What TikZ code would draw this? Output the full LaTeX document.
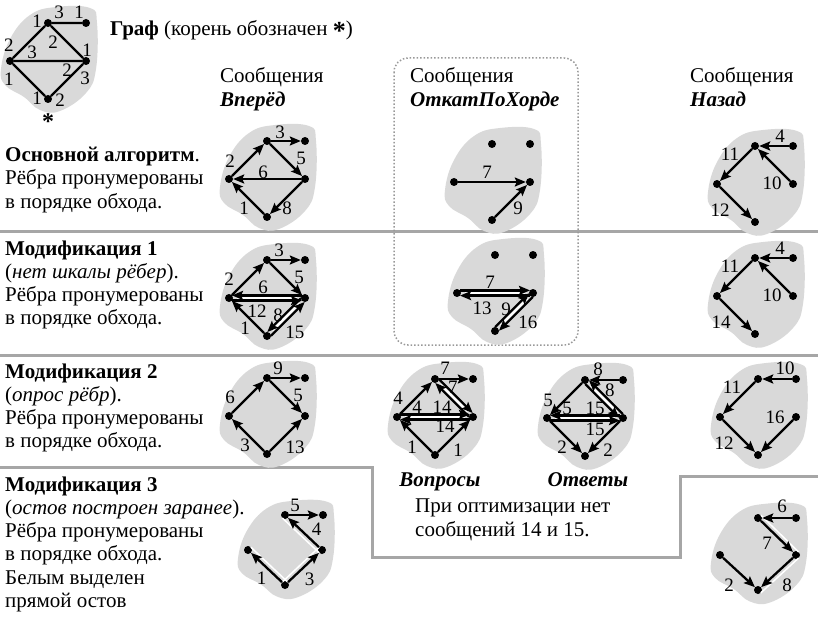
\documentclass[tikz,border=0pt]{standalone}
\usepackage{fontspec}
\setmainfont{Liberation Serif}
\usetikzlibrary{arrows.meta,calc,positioning}
\tikzset{
	dot/.style={circle, fill=black, inner sep=0pt, minimum size=8pt},
	edge/.style={line width=2.3pt},
	arr/.style={edge, -{Stealth[length=11pt,width=9pt,inset=2pt]}},
	gap/.style={white, line width=6pt, shorten <=4pt, shorten >=4pt},
	lbl/.style={inner sep=0pt, font=\fontsize{19}{19}\selectfont},
	blob/.style={fill=black!15, draw=none},
	sep/.style={draw=black!35, line width=3pt},
	ln/.style={anchor=base west, inner sep=0pt, font=\fontsize{21}{21}\selectfont},
	tree/.style={white, line width=1.5pt},
}
% five vertices of the graph around a centre
\newcommand{\verts}[3]{%
	\node[dot] (#1T) at (#2,#3-38) {};
	\node[dot] (#1S) at (#2+38,#3-38) {};
	\node[dot] (#1L) at (#2-38,#3) {};
	\node[dot] (#1R) at (#2+38,#3) {};
	\node[dot] (#1B) at (#2,#3+38) {};}
% grey patch under a graph
\newcommand{\blob}[3][1]{%
	\fill[blob, shift={(#2,#3)}, yscale=#1] plot[smooth cycle, tension=.7] coordinates
	{(-47,8) (-38,-22) (-18,-46) (8,-54) (42,-53) (49,-38) (48,8) (38,32) (12,50) (-8,49) (-24,36) (-43,24)};}
% one of two parallel arrows
\newcommand{\lane}[5]{%
	\draw[arr, shorten <=3pt, shorten >=3pt] ($(#2)!#1!90:(#3)$) -- node[lbl,shift={#4}] {#5} ($(#3)!#1!-90:(#2)$);}

\begin{document}
\begin{tikzpicture}[x=1pt,y=-1pt]
\useasboundingbox (0,0) rectangle (818,620);

% separators
\draw[sep] (0,231) -- (818,231);
\draw[sep] (0,355) -- (818,355);
\draw[sep] (0,467) -- (372,467) -- (372,557) -- (680,557) -- (680,476) -- (818,476);
\draw[black!40, dotted, line width=1.5pt, rounded corners=14pt] (394,58) rectangle (578,345);

% grey patches
\blob{48}{61}
\foreach \x/\y in {267/179, 492/182, 755/184, 267/298, 495/293, 755/296,
	267/416, 435/417, 585/418, 758/417}
	{\blob{\x}{\y}}
\blob[.93]{285}{551}
\blob[.95]{758}{555}

% the graph
\verts{g}{48}{61}
\draw[edge] (gT) -- (gS) (gT) -- (gL) (gT) -- (gR) (gL) -- (gR) (gL) -- (gB) (gR) -- (gB);
\foreach \t/\x/\y [count=\i] in {1/37/21, 3/59/12, 1/79/12, 2/9/45, 3/32/52, 2/53/42,
	1/87/50, 2/67/70, 3/85/78, 1/9/79, 1/37/98, 2/60/100}
	{\node[lbl] (p\i) at (\x,\y) {\t};}
\node[lbl, font=\fontsize{24}{24}\selectfont\bfseries] (root) at (48,122) {*};
\node[ln] (title) at (110,36)
	{\textbf{Граф} (корень обозначен \raisebox{-4pt}{\fontsize{26}{26}\selectfont\textbf{*}})};

% headers
\node[ln] (hf1) at (220,83) {Сообщения};
\node[ln] (hf2) at (220,107) {\textbf{\textit{Вперёд}}};
\node[ln] (hh1) at (410,83) {Сообщения};
\node[ln] (hh2) at (410,107) {\textbf{\textit{ОткатПоХорде}}};
\node[ln] (hb1) at (690,83) {Сообщения};
\node[ln] (hb2) at (690,107) {\textbf{\textit{Назад}}};

% left column
\foreach \s [count=\i from 0] in {{\textbf{Основной алгоритм}.}, Рёбра пронумерованы, в порядке обхода.}
	{\node[ln] (m0-\i) at (5,162+23*\i) {\s};}
\foreach \s [count=\i from 0] in {{\textbf{Модификация 1}}, {(\textit{нет шкалы рёбер}).},
	Рёбра пронумерованы, в порядке обхода.}
	{\node[ln] (m1-\i) at (5,255+23*\i) {\s};}
\foreach \s [count=\i from 0] in {{\textbf{Модификация 2}}, {(\textit{опрос рёбр}).},
	Рёбра пронумерованы, в порядке обхода.}
	{\node[ln] (m2-\i) at (5,378+23*\i) {\s};}
\foreach \s [count=\i from 0] in {{\textbf{Модификация 3}}, {(\textit{остов построен заранее}).},
	Рёбра пронумерованы, в порядке обхода., Белым выделен, прямой остов}
	{\node[ln] (m3-\i) at (5,491+23.3*\i) {\s};}

% row 1
\verts{f1}{267}{179}
\draw[arr] (f1B) -- node[lbl, shift={(-4,10)}] {1} (f1L);
\draw[arr] (f1L) -- node[lbl, shift={(-18,1)}] {2} (f1T);
\draw[arr] (f1T) -- node[lbl, shift={(-6,-9)}] {3} (f1S);
\draw[arr] (f1T) -- node[lbl, shift={(15,-2)}] {5} (f1R);
\draw[arr] (f1R) -- node[lbl, shift={(-4,-7)}] {6} (f1L);
\draw[arr] (f1R) -- node[lbl, shift={(1,10)}] {8} (f1B);

\verts{h1}{492}{182}
\draw[arr] (h1L) -- node[lbl, shift={(-5,-10)}] {7} (h1R);
\draw[arr] (h1B) -- node[lbl, shift={(7,7)}] {9} (h1R);

\verts{b1}{755}{184}
\draw[arr] (b1S) -- node[lbl, shift={(6,-10)}] {4} (b1T);
\draw[arr] (b1T) -- node[lbl, shift={(-6,-11)}] {11} (b1L);
\draw[arr] (b1R) -- node[lbl, shift={(-2,18)}] {10} (b1T);
\draw[arr] (b1L) -- node[lbl, shift={(-16,7)}] {12} (b1B);

% row 2
\verts{f2}{267}{298}
\draw[arr] (f2B) -- node[lbl, shift={(-3,11)}] {1} (f2L);
\draw[arr] (f2L) -- node[lbl, shift={(-19,0)}] {2} (f2T);
\draw[arr] (f2T) -- node[lbl, shift={(-7,-10)}] {3} (f2S);
\draw[arr] (f2T) -- node[lbl, shift={(13,-2)}] {5} (f2R);
\draw[gap] (f2L) -- (f2R);
\draw[gap] (f2R) -- (f2B);
\lane{-2.6pt}{f2R}{f2L}{(-4,-8)}{6}
\lane{-2.6pt}{f2L}{f2R}{(-10,11)}{12}
\lane{-2.6pt}{f2R}{f2B}{(-6,0)}{8}
\lane{-2.6pt}{f2B}{f2R}{(7,13)}{15}

\verts{h2}{495}{293}
\draw[gap] (h2L) -- (h2R);
\draw[gap] (h2B) -- (h2R);
\lane{2.6pt}{h2L}{h2R}{(-5,-8)}{7}
\lane{2.6pt}{h2R}{h2L}{(-13,13)}{13}
\lane{2.6pt}{h2B}{h2R}{(-6,-1)}{9}
\lane{2.6pt}{h2R}{h2B}{(12,8)}{16}

\verts{b2}{755}{296}
\draw[arr] (b2S) -- node[lbl, shift={(6,-10)}] {4} (b2T);
\draw[arr] (b2T) -- node[lbl, shift={(-6,-11)}] {11} (b2L);
\draw[arr] (b2R) -- node[lbl, shift={(-2,18)}] {10} (b2T);
\draw[arr] (b2L) -- node[lbl, shift={(-15,7)}] {14} (b2B);

% row 3
\verts{f3}{267}{416}
\draw[arr] (f3T) -- node[lbl, shift={(-8,-10)}] {9} (f3S);
\draw[arr] (f3L) -- node[lbl, shift={(-18,0)}] {6} (f3T);
\draw[arr] (f3T) -- node[lbl, shift={(12,-2)}] {5} (f3R);
\draw[arr] (f3B) -- node[lbl, shift={(-3,10)}] {3} (f3L);
\draw[arr] (f3B) -- node[lbl, shift={(9,12)}] {13} (f3R);

\verts{q3}{435}{417}
\draw[arr] (q3T) -- node[lbl, shift={(-9,-11)}] {7} (q3S);
\draw[arr] (q3L) -- node[lbl, shift={(-18,0)}] {4} (q3T);
\draw[arr] (q3B) -- node[lbl, shift={(-4,11)}] {1} (q3L);
\draw[arr] (q3B) -- node[lbl, shift={(4,14)}] {1} (q3R);
\draw[gap] (q3T) -- (q3R);
\draw[gap] (q3L) -- (q3R);
\lane{2.6pt}{q3T}{q3R}{(-3,-9)}{7}
\lane{2.6pt}{q3R}{q3T}{(-10,7)}{14}
\lane{2.6pt}{q3L}{q3R}{(-18,-7)}{4}
\lane{2.6pt}{q3R}{q3L}{(10,7)}{14}

\verts{o3}{585}{418}
\draw[arr] (o3S) -- node[lbl, shift={(-6,-11)}] {8} (o3T);
\draw[arr] (o3T) -- node[lbl, shift={(-18,1)}] {5} (o3L);
\draw[arr] (o3L) -- node[lbl, shift={(-4,10)}] {2} (o3B);
\draw[arr] (o3R) -- node[lbl, shift={(4,13)}] {2} (o3B);
\draw[gap] (o3T) -- (o3R);
\draw[gap] (o3L) -- (o3R);
\lane{-2.6pt}{o3R}{o3T}{(4,-7)}{8}
\lane{-2.6pt}{o3T}{o3R}{(-7,7)}{15}
\lane{-2.6pt}{o3R}{o3L}{(-18,-7)}{5}
\lane{-2.6pt}{o3L}{o3R}{(10,9)}{15}

\verts{b3}{758}{417}
\draw[arr] (b3S) -- node[lbl, shift={(8,-11)}] {10} (b3T);
\draw[arr] (b3T) -- node[lbl, shift={(-7,-11)}] {11} (b3L);
\draw[arr] (b3L) -- node[lbl, shift={(-15,7)}] {12} (b3B);
\draw[arr] (b3R) -- node[lbl, shift={(-2,-19)}] {16} (b3B);

\node[ln, anchor=base, font=\fontsize{21}{21}\selectfont\bfseries\itshape] (ask) at (440,486) {Вопросы};
\node[ln, anchor=base, font=\fontsize{21}{21}\selectfont\bfseries\itshape] (ans) at (588,486) {Ответы};
\node[ln] (note1) at (415,512) {При оптимизации нет};
\node[ln] (note2) at (415,536) {сообщений 14 и 15.};

% row 4: the tree drawn on its own
\node[dot] (f4T) at (285,515) {};
\node[dot, right=38pt of f4T.center, anchor=center] (f4S) {};
\node[dot] (f4L) at (248,550) {};
\node[dot] (f4R) at (322,550) {};
\node[dot] (f4B) at (285,585) {};
\draw[tree] ($(f4B)!4pt!-90:(f4L)$) -- ($(f4L)!4pt!90:(f4B)$);
\draw[tree] ($(f4B)!4pt!90:(f4R)$) -- ($(f4R)!4pt!-90:(f4B)$);
\draw[tree] ($(f4R)!4pt!90:(f4T)$) -- ($(f4T)!4pt!-90:(f4R)$);
\draw[arr] (f4B) -- node[lbl, shift={(-5,11)}] {1} (f4L);
\draw[arr] (f4B) -- node[lbl, shift={(6,12)}] {3} (f4R);
\draw[arr] (f4R) -- node[lbl, shift={(13,-3)}] {4} (f4T);
\draw[arr] (f4T) -- node[lbl, shift={(-9,-10)}] {5} (f4S);

\node[dot] (b4T) at (758,518) {};
\node[dot, right=38pt of b4T.center, anchor=center] (b4S) {};
\node[dot] (b4L) at (720,555) {};
\node[dot] (b4R) at (796,555) {};
\node[dot] (b4B) at (758,590) {};
\draw[tree] ($(b4T)!4pt!90:(b4R)$) -- ($(b4R)!4pt!-90:(b4T)$);
\draw[tree] ($(b4R)!4pt!90:(b4B)$) -- ($(b4B)!4pt!-90:(b4R)$);
\draw[arr] (b4S) -- node[lbl, shift={(5,-12)}] {6} (b4T);
\draw[arr] (b4T) -- node[lbl, shift={(-10,7)}] {7} (b4R);
\draw[arr] (b4R) -- node[lbl, shift={(10,13)}] {8} (b4B);
\draw[arr] (b4L) -- node[lbl, shift={(-10,13)}] {2} (b4B);
\end{tikzpicture}
\end{document}
